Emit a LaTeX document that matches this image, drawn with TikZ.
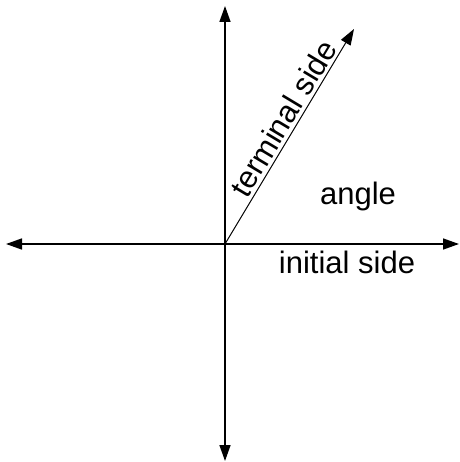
\documentclass[tikz,border=0pt]{standalone}
\usepackage{fontspec}
\setmainfont{Liberation Sans}
\usetikzlibrary{arrows.meta}
\tikzset{
  axis/.style={line width=1.5pt, -{Triangle[length=16pt, width=11pt]}},
  side/.style={line width=1pt, -{Triangle[length=16pt, width=11pt]}},
  word/.style={font=\fontsize{31}{36}\selectfont, inner sep=3pt}
}
\begin{document}
\begin{tikzpicture}[x=1pt, y=1pt]
        \useasboundingbox (0,0) rectangle (459,-462);
        \coordinate (O) at (225,-244);
        \coordinate (L) at (6,-244);
        \coordinate (R) at (459,-244);
        \coordinate (T) at (225,-6);
        \coordinate (B) at (225,-461);
        \coordinate (P) at (354,-29);
        \draw[axis] (O) -- (L);
        \draw[axis] (O) -- (R);
        \draw[axis] (O) -- (T);
        \draw[axis] (O) -- (B);
        \draw[side] (O) -- (P) node[word, pos=0.55, sloped, above] (term) {terminal side};
        \node[word] (angle) at (358,-196) {angle};
        \node[word, anchor=base] (init) at (347,-273) {initial side};
    \end{tikzpicture}
\end{document}
